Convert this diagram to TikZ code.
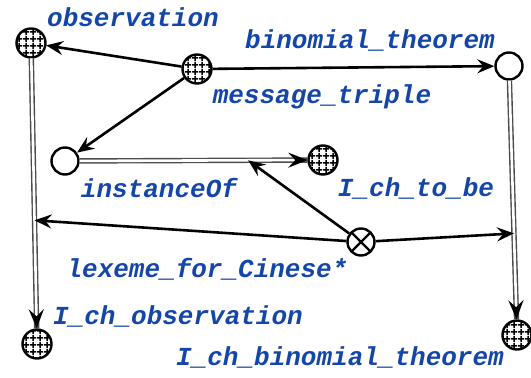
\documentclass[tikz,border=0pt]{standalone}
\usepackage{fontspec}
\setmonofont{Liberation Mono}
\usetikzlibrary{arrows.meta,patterns.meta}
\definecolor{labelblue}{RGB}{20,70,170}

\begin{document}
\begin{tikzpicture}[x=1pt, y=-1pt,
    gridnode/.style={circle, draw, line width=2.4pt, minimum size=29pt, inner sep=0pt,
      pattern={Hatch[distance=6.5pt, line width=1.6pt]}},
    opennode/.style={circle, draw, line width=2.4pt, minimum size=27pt, inner sep=0pt, fill=white},
    crossnode/.style={opennode, path picture={
        \draw[line width=2.4pt] (path picture bounding box.north west) -- (path picture bounding box.south east)
          (path picture bounding box.north east) -- (path picture bounding box.south west);}},
    rel/.style={-{Stealth[length=17pt, width=14pt, inset=6pt]}, line width=2.6pt},
    isa/.style={draw=white, line width=2.6pt,
      preaction={draw=black!70, line width=5.4pt, -},
      -{Stealth[length=19pt, width=15pt, inset=7pt, color=black]}},
    lbl/.style={text=labelblue, inner sep=0pt,
      font=\fontsize{26}{28}\selectfont\ttfamily\bfseries\itshape}
  ]
    \useasboundingbox (0,0) rectangle (531,378);
    % nodes
    \node[gridnode] (obs) at (31,43) {};
    \node[gridnode] (msg) at (197,69) {};
    \node[opennode] (bin) at (509,66) {};
    \node[opennode] (inst) at (65,161) {};
    \node[gridnode] (tobe) at (323,160) {};
    \node[crossnode] (lex) at (361,242) {};
    \node[gridnode] (ichobs) at (37,344) {};
    \node[gridnode] (ichbin) at (517,335) {};
    % labels
    \node[lbl] (obs-l) at (133,17) {observation};
    \node[lbl] (bin-l) at (370,40) {binomial\_theorem};
    \node[lbl] (msg-l) at (322,97) {message\_triple};
    \node[lbl] (inst-l) at (159,188) {instanceOf};
    \node[lbl] (tobe-l) at (416,188) {I\_ch\_to\_be};
    \node[lbl] (lex-l) at (207,269) {lexeme\_for\_Cinese*};
    \node[lbl] (ichobs-l) at (178,316) {I\_ch\_observation};
    \node[lbl] (ichbin-l) at (340,357) {I\_ch\_binomial\_theorem};
    % edges
    \draw[rel] (msg) -- (obs);
    \draw[rel] (msg) -- (bin);
    \draw[rel] (msg) -- (inst);
    \draw[isa] (inst) -- coordinate[pos=0.74] (inst-m) (tobe);
    \draw[isa] (obs) -- coordinate[pos=0.6] (obs-m) (ichobs);
    \draw[isa] (bin) -- coordinate[pos=0.64] (bin-m) (ichbin);
    \draw[rel] (lex) -- (inst-m);
    \draw[rel] (lex) -- (obs-m);
    \draw[rel] (lex) -- (bin-m);
\end{tikzpicture}
\end{document}
